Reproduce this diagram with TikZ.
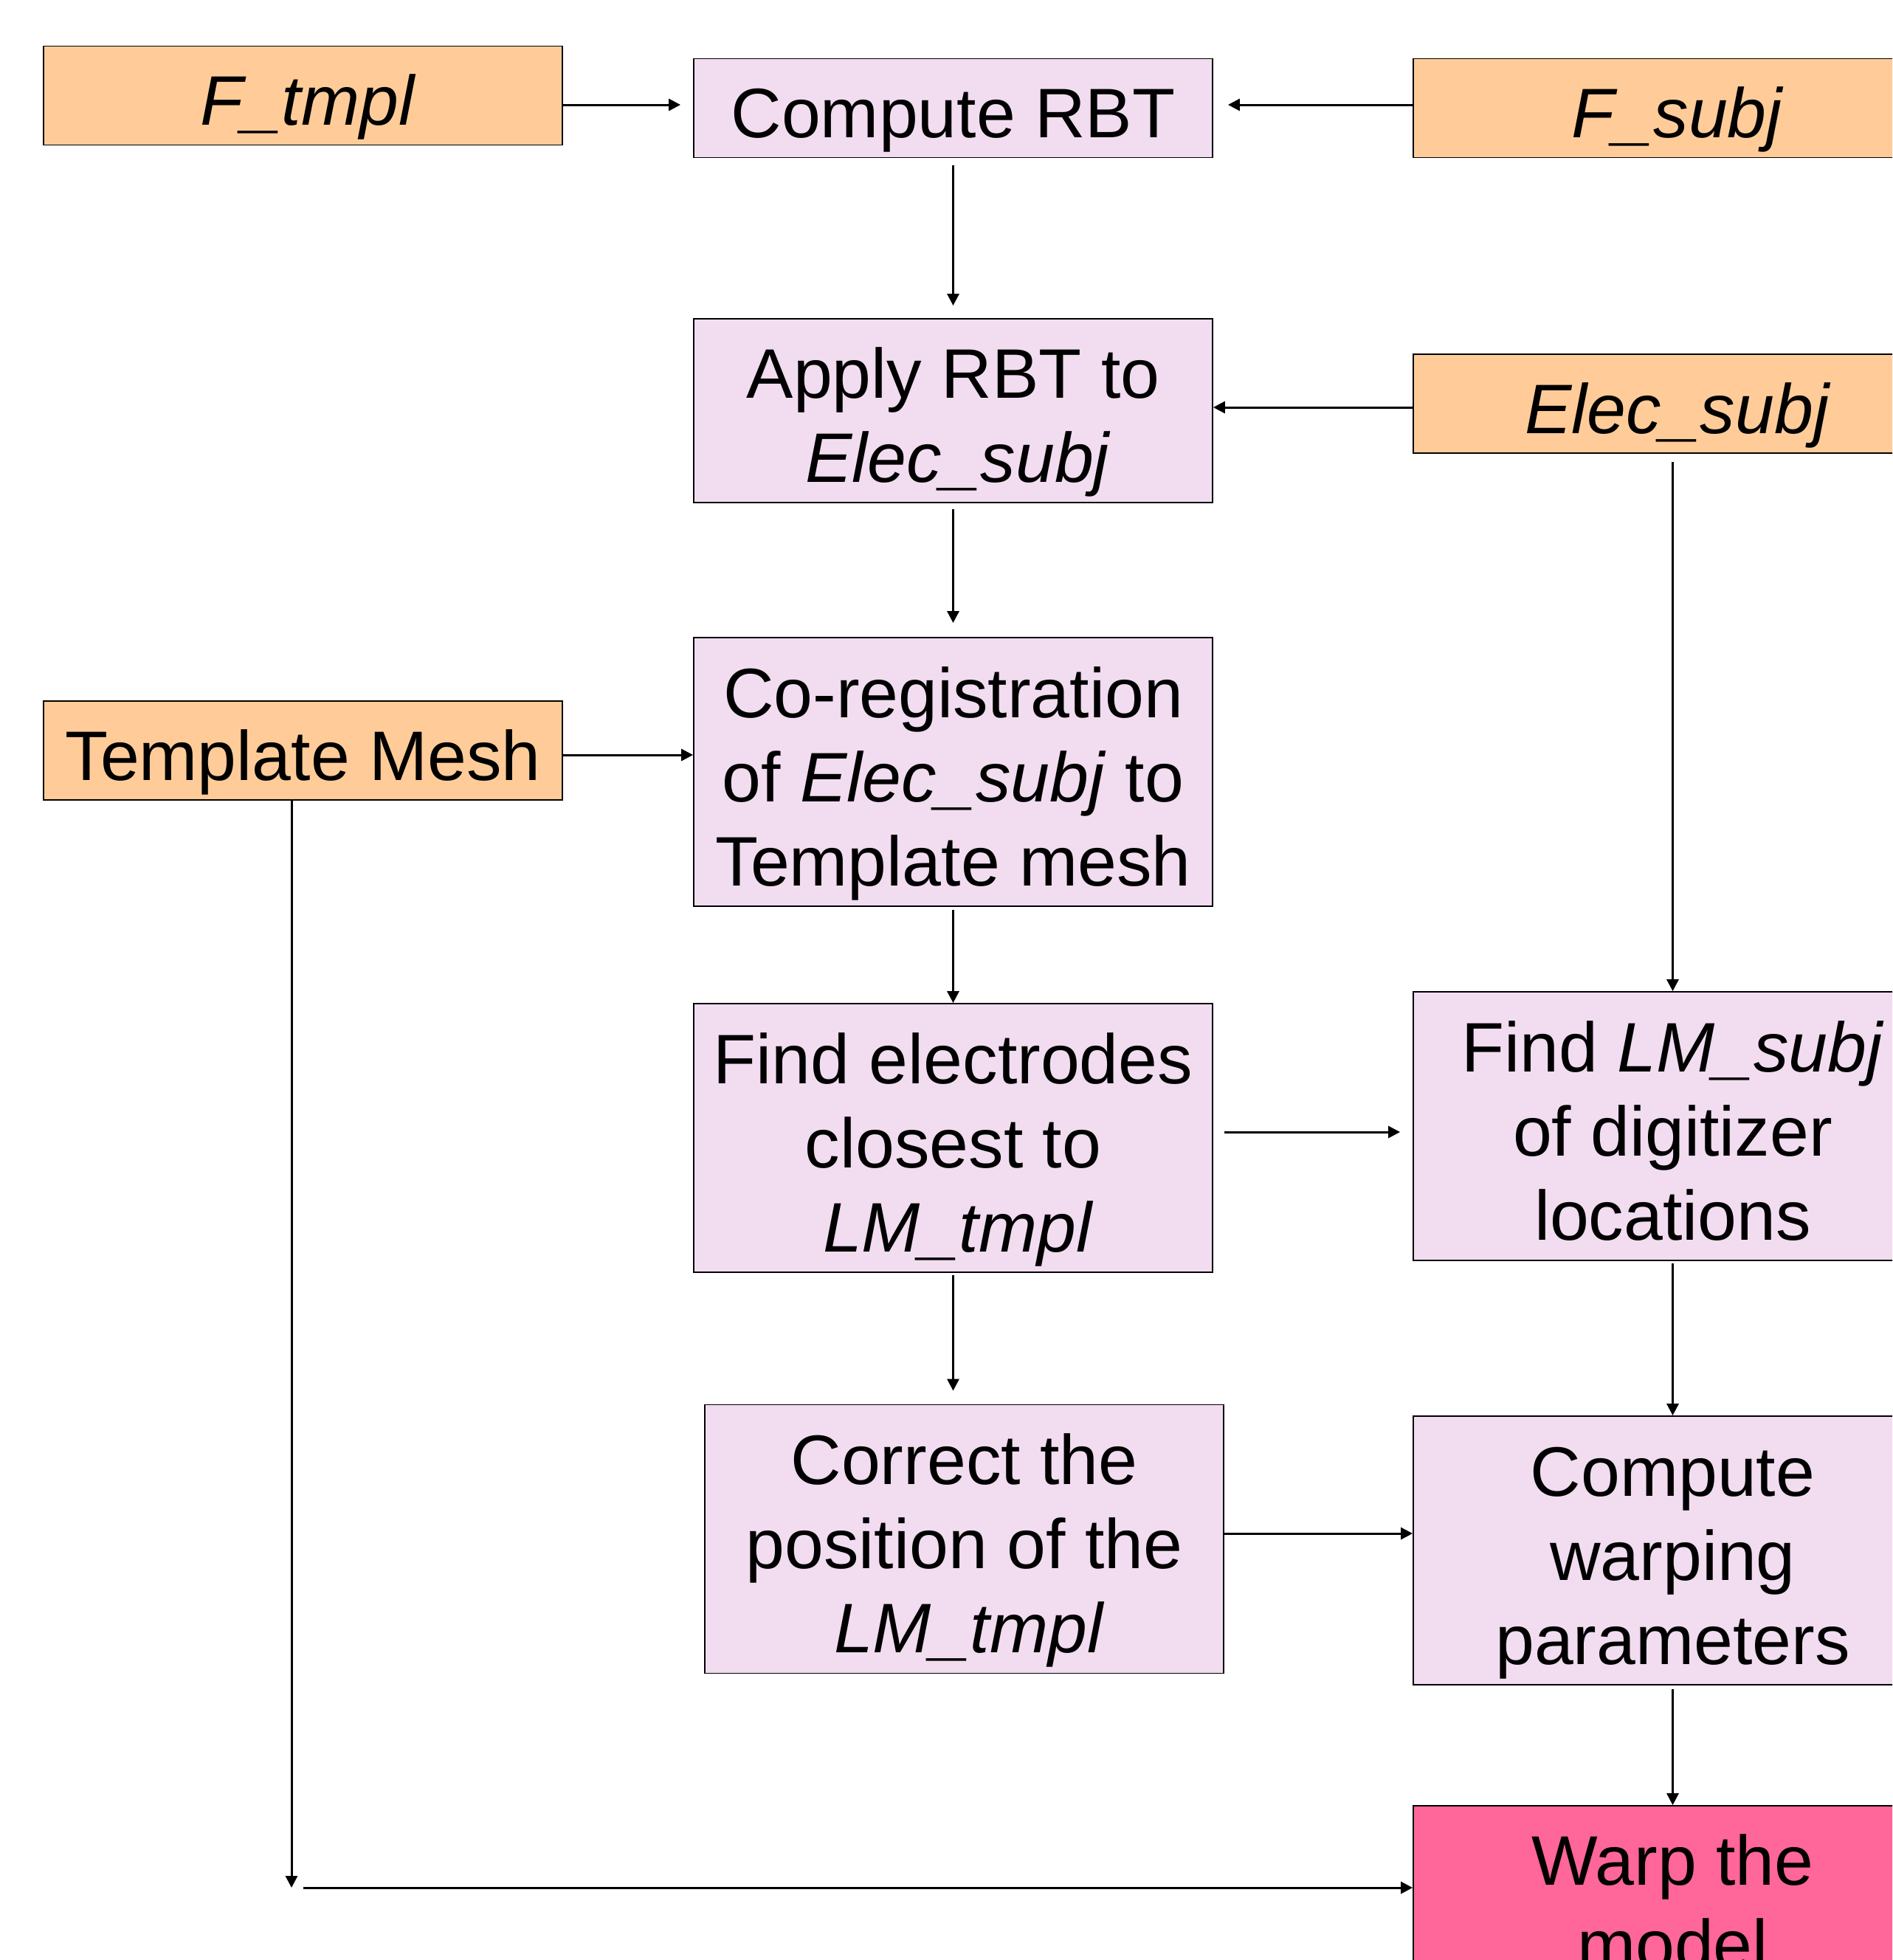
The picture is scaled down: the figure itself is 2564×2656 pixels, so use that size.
\documentclass[tikz,border=0pt]{standalone}
\usepackage{fontspec}
\setmainfont{Liberation Sans}
\usetikzlibrary{arrows.meta}
\definecolor{peach}{RGB}{255,204,153}
\definecolor{lav}{RGB}{241,220,240}
\definecolor{hotpink}{RGB}{255,102,153}
\newcommand\bs{\rule[-6pt]{0pt}{32.2pt}}
\newcommand\itline[1]{\hspace*{3.4pt}\textit{#1}}
\begin{document}
\lineskiplimit=-100pt
\begin{tikzpicture}[x=0.25pt, y=-0.25pt,
 box/.style={draw=black, line width=0.45pt, minimum width=175.75pt, inner sep=0pt, align=center,
   font=\fontsize{23.75pt}{28.5pt}\selectfont},
 one/.style={minimum height=33.5pt},
 two/.style={minimum height=62.25pt},
 three/.style={minimum height=91pt},
 inbox/.style={box, fill=peach},
 stepbox/.style={box, fill=lav},
 endbox/.style={box, fill=hotpink},
 conn/.style={line width=0.75pt, -{Triangle[length=4pt,width=4pt]}}]
\useasboundingbox (0,0) rectangle (2564,2656);
\clip (0,0) rectangle (2564,2656);
\fill[white] (0,0) rectangle (2564,2656);

\node[inbox, one]   (ftmpl)   at (410.5,129.5) {\bs\itline{F\_tmpl}\bs};
\node[stepbox, one] (crbt)    at (1291.5,146.5) {\bs Compute RBT\bs};
\node[inbox, one]   (fsubj)   at (2266.5,146.5) {\bs\itline{F\_subj}\bs};
\node[stepbox, two] (apply)   at (1291.5,556.5) {\bs Apply RBT to\\\itline{Elec\_subj}\bs};
\node[inbox, one]   (esubj)   at (2266.5,547) {\bs\itline{Elec\_subj}\bs};
\node[stepbox, three] (coreg) at (1291.5,1046) {\bs Co-registration\\of \textit{Elec\_subj} to\\Template mesh\bs};
\node[inbox, one]   (tmesh)   at (410.5,1017) {\bs Template Mesh\bs};
\node[stepbox, three] (findel) at (1291.5,1542) {\bs Find electrodes\\closest to\\\itline{LM\_tmpl}\bs};
\node[stepbox, three] (findlm) at (2266.5,1526) {\bs Find \textit{LM\_subj}\\of digitizer\\locations\bs};
\node[stepbox, three] (correct) at (1306.5,2085.5) {\bs Correct the\\position of the\\\itline{LM\_tmpl}\bs};
\node[stepbox, three] (cwarp) at (2266.5,2101) {\bs Compute\\warping\\parameters\bs};
\node[endbox, two]  (warp)    at (2266.5,2571.5) {\bs Warp the\\model\bs};

\coordinate (corner) at (395,2558);

\draw[conn, shorten >=4.25pt] (ftmpl.east |- 0,142) -- (crbt.west |- 0,142);
\draw[conn, shorten >=5pt] (fsubj.west |- 0,142) -- (crbt.east |- 0,142);
\draw[conn, shorten <=2.5pt, shorten >=4.25pt] (crbt.south) -- (apply.north);
\draw[conn] (esubj.west |- 0,552) -- (apply.east |- 0,552);
\draw[conn, shorten <=2.75pt] (esubj.south) -- (findlm.north);
\draw[conn, shorten <=2pt, shorten >=4.75pt] (apply.south) -- (coreg.north);
\draw[conn] (tmesh.east |- 0,1023) -- (coreg.west |- 0,1023);
\draw[conn, shorten <=1pt] (coreg.south) -- (findel.north);
\draw[conn, shorten <=3.75pt, shorten >=4.25pt] (findel.east |- 0,1534) -- (findlm.west |- 0,1534);
\draw[conn, shorten <=0.75pt, shorten >=4.5pt] (findel.south) -- (findel.south |- correct.north);
\draw[conn] (correct.east |- 0,2078) -- (cwarp.west |- 0,2078);
\draw[conn, shorten <=0.75pt] (findlm.south) -- (cwarp.north);
\draw[conn, shorten <=1.25pt] (cwarp.south) -- (warp.north);
\draw[conn] (tmesh.south -| corner) -- (corner);
\draw[conn] ([xshift=4pt]corner) -- (warp.west |- corner);
\end{tikzpicture}
\end{document}
